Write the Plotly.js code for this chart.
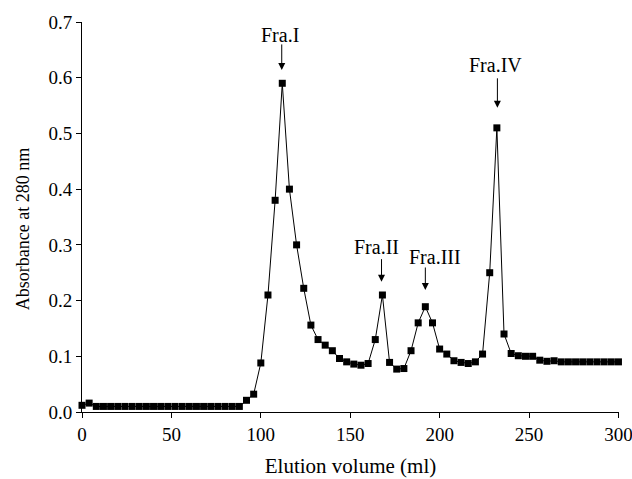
<!DOCTYPE html>
<html>
<head>
<meta charset="utf-8">
<script src="https://cdn.plot.ly/plotly-3.0.1.min.js"></script>
<style>html,body{margin:0;padding:0;background:#fff;}#chart{width:632px;height:479px;}</style>
</head>
<body>
<div id="chart"></div>
<script>
// Elution volume (ml)
var elutionVolume = [0,4,8,12,16,20,24,28,32,36,40,44,48,52,56,60,64,68,72,76,80,84,88,
  92,96,100,104,108,112,116,120,124,128,132,136,140,144,148,152,156,160,164,168,172,176,180,
  184,188,192,196,200,204,208,212,216,220,224,228,232,236,240,244,248,252,256,260,264,268,
  272,276,280,284,288,292,296,300];
// Absorbance at 280 nm
var absorbance = [0.012,0.016,0.01,0.01,0.01,0.01,0.01,0.01,0.01,0.01,0.01,0.01,0.01,0.01,0.01,0.01,0.01,0.01,0.01,0.01,0.01,0.01,0.01,
  0.021,0.032,0.088,0.21,0.38,0.59,0.40,0.30,0.222,0.156,0.13,0.12,0.11,0.096,0.09,0.086,0.084,0.087,0.13,0.21,0.089,0.077,0.078,
  0.11,0.16,0.189,0.16,0.113,0.104,0.092,0.089,0.087,0.09,0.104,0.25,0.51,0.14,0.105,0.101,0.1,0.1,0.093,0.091,0.092,0.09,
  0.09,0.09,0.09,0.09,0.09,0.09,0.09,0.09];
// Fraction labels
var fractionLabels = ["Fra.I","Fra.II","Fra.III","Fra.IV"];
var xTickVals = [0,50,100,150,200,250,300];
var yTickVals = [0.0,0.1,0.2,0.3,0.4,0.5,0.6,0.7];
var xTitle = 'Elution volume (ml)';
var yTitle = 'Absorbance at 280 nm';

var font = "'Liberation Serif', 'DejaVu Serif', serif";

var trace = {
  x: elutionVolume,
  y: absorbance,
  type: 'scatter',
  mode: 'lines+markers',
  line: {color: '#000', width: 1},
  marker: {symbol: 'square', size: 7, color: '#000'},
  cliponaxis: false,
  showlegend: false
};

function label(t, x, y) {
  return {x: x, y: y, xref: 'x', yref: 'y', text: t, showarrow: false,
    xanchor: 'center', yanchor: 'middle',
    font: {family: font, size: 20, color: '#000'}};
}
function arrow(hx, hy, ay) {
  return {x: hx, y: hy, xref: 'x', yref: 'y', text: '.', showarrow: true,
    font: {family: font, size: 6, color: 'rgba(0,0,0,0)'}, borderpad: 0,
    ax: 0, ay: ay, arrowhead: 2, arrowsize: 1.4, arrowwidth: 1, arrowcolor: '#000'};
}

var layout = {
  width: 632, height: 479,
  margin: {l: 82, r: 13, t: 22, b: 67},
  paper_bgcolor: '#fff', plot_bgcolor: '#fff',
  font: {family: font, color: '#000', size: 19},
  xaxis: {
    range: [0, 300.3], tickvals: xTickVals,
    showgrid: false, zeroline: false,
    showline: true, linecolor: '#000', linewidth: 1,
    ticks: 'outside', ticklen: 5, tickwidth: 1, tickcolor: '#000',
    ticklabeloverflow: 'allow',
    tickfont: {family: font, size: 19},
    title: {text: xTitle, font: {family: font, size: 21}, standoff: 14}
  },
  yaxis: {
    range: [0, 0.7], tickvals: yTickVals, tickformat: '.1f',
    showgrid: false, zeroline: false,
    showline: true, linecolor: '#000', linewidth: 1,
    ticks: 'outside', ticklen: 5, tickwidth: 1, tickcolor: '#000',
    ticklabeloverflow: 'allow',
    tickfont: {family: font, size: 19}
  },
  annotations: [
    {x: -0.11, y: 0.328, xref: 'paper', yref: 'y', text: yTitle, textangle: -90,
     showarrow: false, xanchor: 'center', yanchor: 'middle',
     font: {family: font, size: 18, color: '#000'}},
    label(fractionLabels[0], 110.7, 0.677),
    label(fractionLabels[1], 164.6, 0.297),
    label(fractionLabels[2], 197.5, 0.278),
    label(fractionLabels[3], 231.2, 0.623),
    arrow(111.7, 0.614, -29),
    arrow(167.5, 0.234, -26),
    arrow(192.0, 0.219, -26),
    arrow(232.3, 0.546, -33)
  ]
};

Plotly.newPlot('chart', [trace], layout, {displayModeBar: false, staticPlot: true});
</script>
</body>
</html>
